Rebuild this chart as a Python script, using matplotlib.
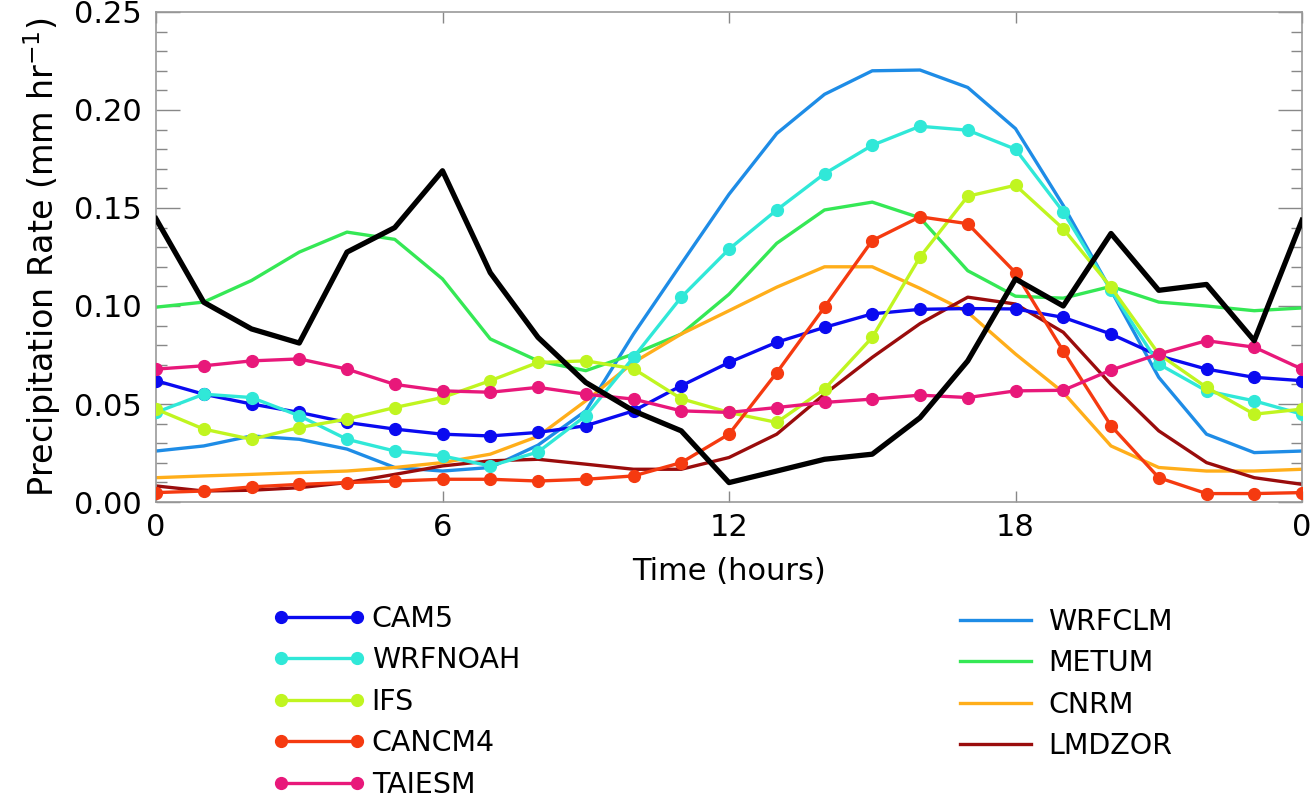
import matplotlib
matplotlib.use("Agg")
import matplotlib.pyplot as plt
from matplotlib.lines import Line2D
from matplotlib.ticker import MultipleLocator, FixedLocator

plt.rcParams['font.family'] = ['DejaVu Sans']
plt.rcParams['mathtext.fontset'] = 'dejavusans'

hours = list(range(25))

obs = [0.1445, 0.1019, 0.0883, 0.0811, 0.1275, 0.140, 0.169, 0.117, 0.084,
       0.061, 0.0465, 0.0363, 0.0099, 0.0158, 0.0218, 0.0244, 0.043, 0.072,
       0.1138, 0.100, 0.137, 0.108, 0.111, 0.0823, 0.1437]
cam5 = [0.0619, 0.055, 0.050, 0.0457, 0.0406, 0.0372, 0.0346, 0.0337, 0.0355,
        0.0389, 0.0465, 0.0593, 0.0712, 0.0815, 0.0891, 0.096, 0.0983, 0.0987,
        0.0985, 0.0942, 0.0857, 0.0746, 0.0678, 0.0636, 0.0619]
wrfnoah = [0.0457, 0.055, 0.0533, 0.044, 0.032, 0.026, 0.0235, 0.0184, 0.0255,
           0.044, 0.0738, 0.1045, 0.129, 0.149, 0.1675, 0.182, 0.1917, 0.1897,
           0.180, 0.148, 0.108, 0.0704, 0.0567, 0.0516, 0.0448]
ifs = [0.0474, 0.0372, 0.032, 0.038, 0.0423, 0.0482, 0.0533, 0.0619, 0.0712,
       0.072, 0.068, 0.0527, 0.0457, 0.0406, 0.0576, 0.084, 0.125, 0.156,
       0.1616, 0.1394, 0.1096, 0.0755, 0.0585, 0.0448, 0.0474]
cancm4 = [0.0048, 0.0056, 0.0077, 0.009, 0.0099, 0.0107, 0.0116, 0.0116, 0.0107,
          0.0116, 0.0133, 0.0201, 0.0346, 0.066, 0.0994, 0.1334, 0.1455, 0.142,
          0.117, 0.077, 0.0389, 0.0124, 0.0043, 0.0043, 0.0048]
taiesm = [0.0678, 0.0695, 0.072, 0.073, 0.0678, 0.060, 0.0567, 0.056, 0.0585,
          0.055, 0.0525, 0.0465, 0.0457, 0.0482, 0.0508, 0.0525, 0.0545, 0.0533,
          0.0567, 0.057, 0.0673, 0.0755, 0.0823, 0.079, 0.0678]
wrfclm = [0.026, 0.0286, 0.0337, 0.032, 0.027, 0.0176, 0.0158, 0.0176, 0.029,
          0.0465, 0.0857, 0.1215, 0.157, 0.188, 0.208, 0.220, 0.2204, 0.2115,
          0.1905, 0.1513, 0.108, 0.0636, 0.0346, 0.0252, 0.026]
metum = [0.0994, 0.102, 0.113, 0.1275, 0.1377, 0.134, 0.1138, 0.0832, 0.072,
         0.067, 0.0755, 0.0857, 0.106, 0.132, 0.149, 0.153, 0.145, 0.118,
         0.105, 0.104, 0.110, 0.102, 0.100, 0.0976, 0.099]
cnrm = [0.0124, 0.0133, 0.0141, 0.015, 0.0158, 0.0176, 0.0201, 0.0244, 0.0335,
        0.0516, 0.0712, 0.0857, 0.0976, 0.1096, 0.120, 0.120, 0.109, 0.0968,
        0.0755, 0.0559, 0.0286, 0.0176, 0.0158, 0.0158, 0.0167]
lmdzor = [0.0082, 0.0056, 0.006, 0.0073, 0.0099, 0.0141, 0.0184, 0.021, 0.0218,
          0.0193, 0.0167, 0.0167, 0.0227, 0.0346, 0.055, 0.0738, 0.091, 0.1045,
          0.101, 0.0866, 0.060, 0.0363, 0.0201, 0.0124, 0.009]

marker_names = ['CAM5', 'WRFNOAH', 'IFS', 'CANCM4', 'TAIESM']
marker_series = [cam5, wrfnoah, ifs, cancm4, taiesm]
marker_colors = ['#0a0af0', '#30e8d8', '#c0f520', '#f53a10', '#e8187a']

line_names = ['WRFCLM', 'METUM', 'CNRM', 'LMDZOR']
line_series = [wrfclm, metum, cnrm, lmdzor]
line_colors = ['#1e8ce6', '#35e855', '#ffae1a', '#9a0c0c']

xtick_pos = [0, 6, 12, 18, 24]
xtick_labels = ['0', '6', '12', '18', '0']

fig = plt.figure(figsize=(13.14, 8.01), dpi=100)
ax = fig.add_axes([156/1314, 1 - 502/801, (1302-156)/1314, (502-12)/801])

for name, s, c in zip(line_names, line_series, line_colors):
    ax.plot(hours, s, color=c, lw=2.4, zorder=2)
for name, s, c in zip(marker_names, marker_series, marker_colors):
    ax.plot(hours, s, color=c, lw=2.4, marker='o', ms=8.5, mec=c, mfc=c, zorder=3)
ax.plot(hours, obs, color='black', lw=3.8, zorder=4)

ax.set_xlim(0, 24)
ax.set_ylim(0, 0.25)
ax.xaxis.set_major_locator(FixedLocator(xtick_pos))
ax.set_xticklabels(xtick_labels)
ax.yaxis.set_major_locator(MultipleLocator(0.05))
ax.yaxis.set_minor_locator(MultipleLocator(0.01))
ax.yaxis.set_major_formatter(matplotlib.ticker.FormatStrFormatter('%.2f'))

for sp in ax.spines.values():
    sp.set_color('#999999')
    sp.set_linewidth(1.2)
ax.tick_params(axis='x', which='major', direction='in', top=True, bottom=True,
               length=8, width=1, color='#888888', labelsize=22, pad=8)
ax.tick_params(axis='y', which='major', direction='in', left=True, right=True,
               length=17, width=1, color='#888888', labelsize=22, pad=10)
ax.tick_params(axis='y', which='minor', direction='in', left=True, right=True,
               length=8, width=1, color='#888888')

ax.set_xlabel('Time (hours)', fontsize=22, labelpad=11)
ax.set_ylabel(r'Precipitation Rate (mm hr$^{-1}$)', fontsize=24, labelpad=8)

h1 = [Line2D([0], [0], color=c, lw=2.4, marker='o', ms=8.5) for c in marker_colors]
h2 = [Line2D([0], [0], color=c, lw=2.4) for c in line_colors]
leg1 = fig.legend(h1, marker_names, loc='upper left', bbox_to_anchor=(272/1314, 1 - 605/801),
                  frameon=False, fontsize=20.5, numpoints=2, handlelength=3.3,
                  handletextpad=0.2, labelspacing=0.47, borderaxespad=0, borderpad=0)
leg2 = fig.legend(h2, line_names, loc='upper left', bbox_to_anchor=(960/1314, 1 - 608/801),
                  frameon=False, fontsize=20.5, handlelength=2.5,
                  handletextpad=0.6, labelspacing=0.47, borderaxespad=0, borderpad=0)

fig.savefig('out.png', dpi=100, facecolor='white')
